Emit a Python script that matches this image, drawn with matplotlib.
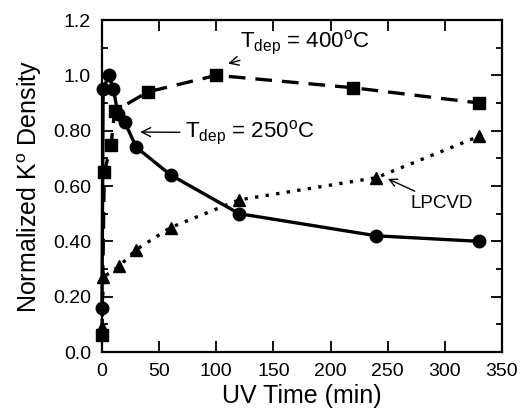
import matplotlib
matplotlib.use("Agg")
import matplotlib.pyplot as plt
from matplotlib.ticker import MultipleLocator

plt.rcParams['font.family'] = ['Liberation Sans', 'DejaVu Sans']
plt.rcParams['mathtext.fontset'] = 'custom'
plt.rcParams['mathtext.rm'] = 'Liberation Sans'
plt.rcParams['mathtext.it'] = 'Liberation Sans'

# Tdep = 250 C (circles, solid)
t250_x = [0, 1, 6, 10, 14, 20, 30, 60, 120, 240, 330]
t250_y = [0.16, 0.95, 1.00, 0.95, 0.86, 0.83, 0.74, 0.64, 0.50, 0.42, 0.40]

# Tdep = 400 C (squares, dashed)
t400_x = [0, 2, 8, 11, 40, 100, 220, 330]
t400_y = [0.06, 0.65, 0.75, 0.87, 0.94, 1.00, 0.955, 0.90]

# LPCVD (triangles, dotted)
lp_x = [0, 1, 15, 30, 60, 120, 240, 330]
lp_y = [0.09, 0.27, 0.31, 0.37, 0.45, 0.55, 0.63, 0.78]

ytick_vals = [0.0, 0.2, 0.4, 0.6, 0.8, 1.0, 1.2]
ytick_labels = ["0.0", "0.20", "0.40", "0.60", "0.80", "1.0", "1.2"]
xtick_vals = [0, 50, 100, 150, 200, 250, 300, 350]

fig = plt.figure(figsize=(5.22, 4.15), dpi=100)
ax = fig.add_axes([0.1954, 0.1518, 0.7663, 0.80])

ax.plot(t250_x, t250_y, '-', color='black', lw=2.4, marker='o', ms=9, clip_on=False, zorder=3)
ax.plot(t400_x, t400_y, color='black', lw=2.4, dashes=(5, 3), marker='s', ms=8.5, clip_on=False, zorder=3)
ax.plot(lp_x, lp_y, color='black', lw=2.4, dashes=(1, 2.2), marker='^', ms=9, clip_on=False, zorder=3)

ax.set_xlim(0, 350)
ax.set_ylim(0, 1.2)
ax.set_xticks(xtick_vals)
ax.set_yticks(ytick_vals)
ax.set_yticklabels(ytick_labels)
ax.yaxis.set_minor_locator(MultipleLocator(0.1))
ax.tick_params(which='both', direction='in', top=True, right=True, labelsize=14, width=1.3)
ax.tick_params(which='major', length=8, pad=8)
ax.tick_params(which='minor', length=4)
for s in ax.spines.values():
    s.set_linewidth(1.6)

ax.set_xlabel("UV Time (min)", fontsize=18, labelpad=3)
ax.set_ylabel(r"Normalized K$^{\rm o}$ Density", fontsize=18, labelpad=6)

ax.annotate(r"T$_{\rm dep}$ = 400$^{\rm o}$C", xy=(108, 1.04), xytext=(121, 1.1),
            fontsize=16, arrowprops=dict(arrowstyle='->', color='black', lw=1.0))
ax.annotate(r"T$_{\rm dep}$ = 250$^{\rm o}$C", xy=(31, 0.795), xytext=(73, 0.775),
            fontsize=16, arrowprops=dict(arrowstyle='->', color='black', lw=1.0))
ax.annotate("LPCVD", xy=(248, 0.63), xytext=(270, 0.52),
            fontsize=13.5, arrowprops=dict(arrowstyle='->', color='black', lw=1.0))

fig.savefig("out.png", dpi=100)
